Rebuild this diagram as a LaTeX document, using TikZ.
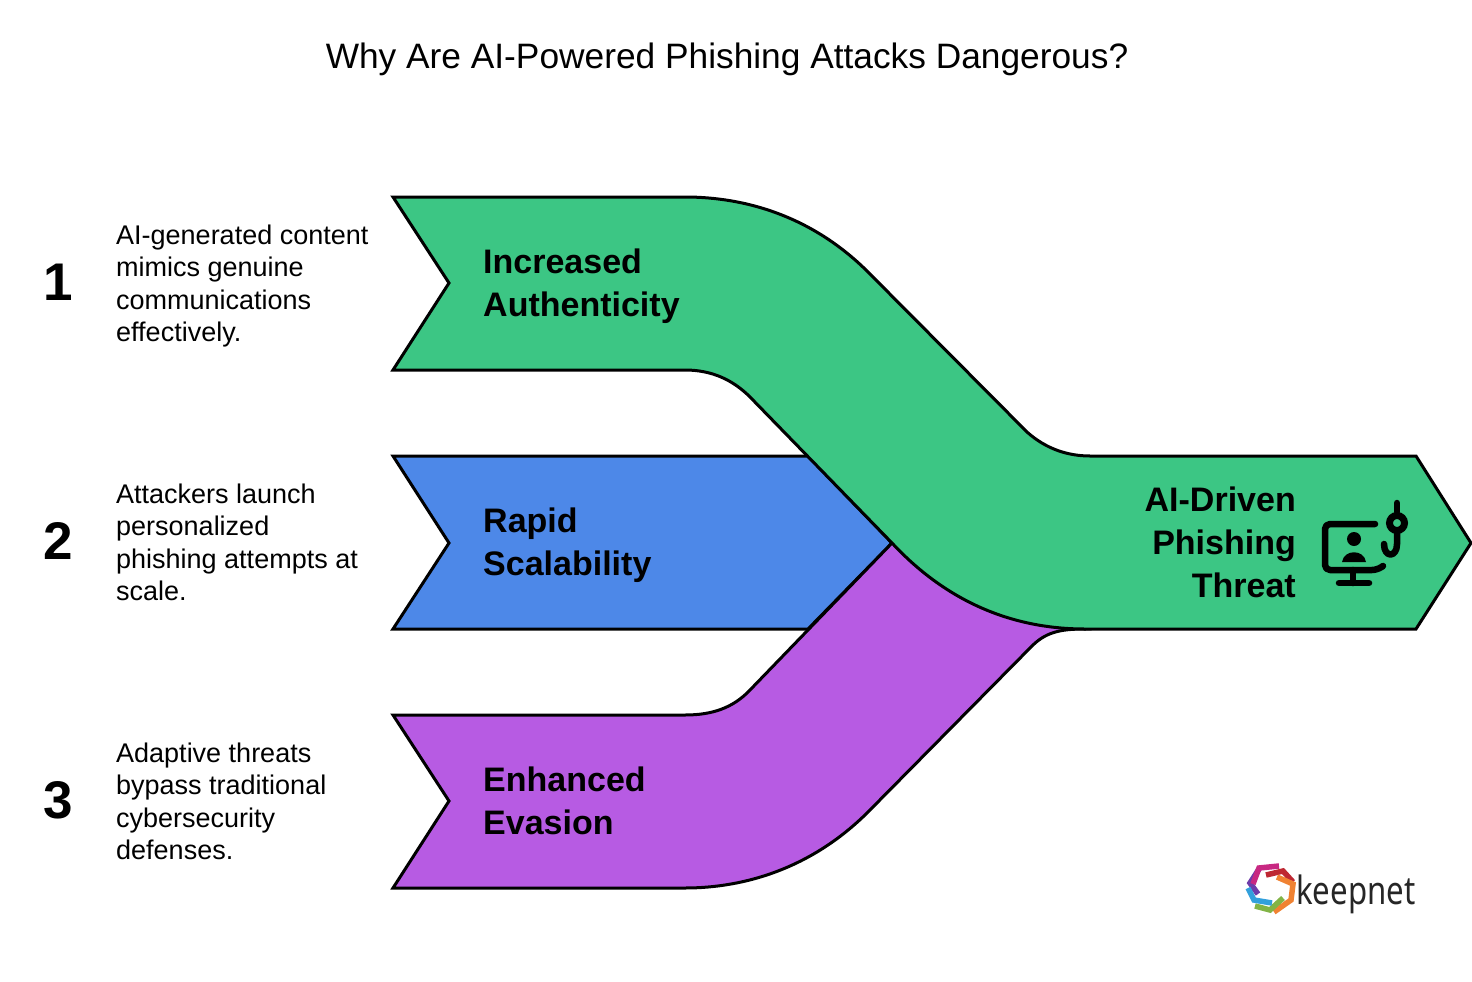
\documentclass[tikz,border=0pt]{standalone}
\usepackage{fontspec}
\setmainfont{Liberation Sans}
\newfontfamily\logofont[FakeStretch=0.8]{Noto Sans}
\definecolor{flowgreen}{HTML}{3CC684}
\definecolor{flowblue}{HTML}{4D88E8}
\definecolor{flowpurple}{HTML}{B75BE3}
\definecolor{logoviolet}{HTML}{6E3CAA}
\definecolor{logomagenta}{HTML}{C82882}
\definecolor{logored}{HTML}{BE2832}
\definecolor{logoorange}{HTML}{F08232}
\definecolor{logogreen}{HTML}{82B446}
\definecolor{logoblue}{HTML}{32A0DC}
\tikzset{
    flow/.style={draw=black, line width=3pt, line join=miter},
    iconline/.style={draw=black, line width=6.5pt, line cap=round, line join=round},
    logoline/.style={line width=5.5pt, line join=miter},
    numtext/.style={font=\fontsize{53}{53}\selectfont\bfseries, anchor=center},
    desctext/.style={font=\fontsize{27}{32.5}\selectfont, align=left, anchor=west, inner sep=0pt, text depth=0pt},
    headtext/.style={font=\fontsize{34}{43}\selectfont\bfseries, align=left, anchor=west, inner sep=0pt, text depth=0pt}
}
\begin{document}
\begin{tikzpicture}[x=1pt, y=-1pt]
    \useasboundingbox (0, 0) rectangle (1472, 982);
    \node[font=\fontsize{35.3}{36}\selectfont, inner sep=0pt] (title) at (727, 59) {Why Are AI-Powered Phishing Attacks Dangerous?};

    \filldraw[flow, fill=flowblue] (393, 456) -- (808, 456) -- (892, 543) -- (808, 629) -- (393, 629) -- (449, 543) -- cycle;
    \filldraw[flow, fill=flowpurple] (393, 715) -- (685, 715) .. controls (712, 715) and (733, 708) .. (750, 690)
        -- (892, 543) -- (1085, 629) .. controls (1060, 629) and (1045, 632) .. (1030, 648)
        -- (868, 812) .. controls (812, 868) and (745, 888) .. (685, 888) -- (393, 888) -- (449, 801) -- cycle;
    \filldraw[flow, fill=flowgreen] (393, 197) -- (685, 197) .. controls (745, 197) and (812, 216) .. (868, 272)
        -- (1027, 432) .. controls (1046, 449) and (1068, 456) .. (1090, 456) -- (1416, 456) -- (1471, 543) -- (1416, 629)
        -- (1085, 629) .. controls (1010, 629) and (945, 600) .. (892, 543) -- (750, 397)
        .. controls (733, 380) and (712, 370) .. (685, 370) -- (393, 370) -- (449, 283) -- cycle;

    \foreach \i/\y/\txt/\head in {
        1/283/{AI-generated content\\mimics genuine\\communications\\effectively.}/{Increased\\Authenticity},
        2/542/{Attackers launch\\personalized\\phishing attempts at\\scale.}/{Rapid\\Scalability},
        3/801/{Adaptive threats\\bypass traditional\\cybersecurity\\defenses.}/{Enhanced\\Evasion}} {
        \node[numtext] (num\i) at (58, \y-1) {\i};
        \node[desctext] (desc\i) at (116, \y) {\txt};
        \node[headtext] (head\i) at (483, \y) {\head};
    }
    \node[font=\fontsize{34}{43}\selectfont\bfseries, align=right, anchor=east, inner sep=0pt, text depth=0pt] (headend) at (1296, 542) {AI-Driven\\Phishing\\Threat};

    \draw[iconline, rounded corners=5pt] (1375, 524) -- (1325, 524) -- (1325, 570) -- (1377, 570) -- (1383, 566);
    \draw[iconline] (1353, 570) -- (1353, 583);
    \draw[iconline] (1339, 583) -- (1369, 583);
    \fill (1354, 539) circle (7);
    \fill (1342, 562) .. controls (1344, 549) and (1364, 549) .. (1366, 562) -- cycle;
    \draw[iconline] (1397, 503) -- (1397, 512);
    \draw[black, line width=7pt] (1397, 523) circle (7.5);
    \draw[iconline] (1397, 532) -- (1397, 544) .. controls (1397, 558) and (1384, 558) .. (1384, 544);

    \draw[logoline, draw=logoviolet] (1259, 869) -- (1250, 883) -- (1258, 894);
    \draw[logoline, draw=logomagenta] (1253, 884) -- (1259, 868) -- (1279, 866);
    \draw[logoline, draw=logored] (1266, 875) -- (1283, 871) -- (1293, 882);
    \draw[logoline, draw=logoorange] (1277, 877) -- (1293, 884) -- (1291, 900) -- (1274, 912);
    \draw[logoline, draw=logogreen] (1255, 906) -- (1270, 910) -- (1283, 898);
    \draw[logoline, draw=logoblue] (1248, 888) -- (1254, 900) -- (1272, 903);
    \node[font=\logofont\fontsize{39}{39}\selectfont, inner sep=0pt, anchor=base west, text=black!85] (logo) at (1296, 904) {keepnet};
\end{tikzpicture}
\end{document}
